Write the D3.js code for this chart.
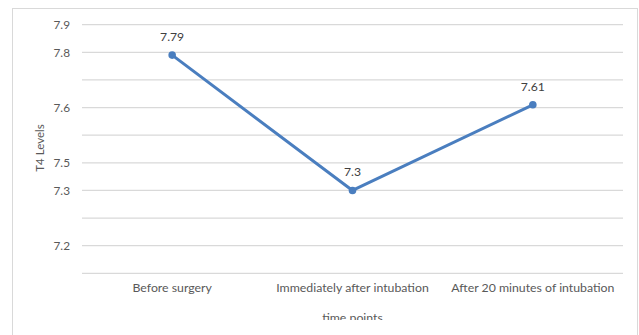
<!DOCTYPE html>
<html><head><meta charset="utf-8">
<script src="https://cdn.jsdelivr.net/npm/d3@7"></script>
<style>body{margin:0;background:#fff}svg{display:block}</style>
</head><body>
<svg id="c" width="639" height="335"></svg>
<script>
const categories = ["Before surgery", "Immediately after intubation", "After 20 minutes of intubation"];
const values = [7.79, 7.3, 7.61];
const valueLabels = ["7.79", "7.3", "7.61"];
const tickValues = [7.0, 7.1, 7.2, 7.3, 7.4, 7.5, 7.6, 7.7, 7.8, 7.9];
const tickLabels = ["", "7.2", "", "7.3", "7.5", "", "7.6", "", "7.8", "7.9"];
const yTitle = "T4 Levels";
const xTitle = "time points";

const font = "Lato, 'Open Sans', sans-serif";
const txt = "#595959";
const svg = d3.select("#c");
const L = 82, R = 623, T = 24.7, B = 273.3;

svg.append("rect").attr("x", 12.5).attr("y", 8.5).attr("width", 625).attr("height", 340)
  .attr("fill", "#fff").attr("stroke", "#d9d9d9").attr("stroke-width", 1);

const x = d3.scaleBand().domain(categories).range([L, R]);
const y = d3.scaleLinear().domain([7.0, 7.9]).range([B, T]);

// gridlines
svg.append("g").selectAll("line").data(tickValues).join("line")
  .attr("x1", L).attr("x2", R)
  .attr("y1", d => y(d)).attr("y2", d => y(d))
  .attr("stroke", "#d9d9d9").attr("stroke-width", 1.2);

// y axis labels
const yAxis = d3.axisLeft(y).tickValues(tickValues).tickFormat((d, i) => tickLabels[i]).tickSize(0).tickPadding(12);
const ya = svg.append("g").attr("transform", `translate(${L},0)`).call(yAxis);
ya.select(".domain").remove();
ya.selectAll("text").attr("font-family", font).attr("font-size", 11.8).attr("fill", txt);

// x axis labels
const xAxis = d3.axisBottom(x).tickSize(0).tickPadding(10);
const xa = svg.append("g").attr("transform", `translate(0,${B})`).call(xAxis);
xa.select(".domain").remove();
xa.selectAll("text").attr("font-family", font).attr("font-size", 12.3).attr("fill", txt);

// line
const cx = d => x(d) + x.bandwidth() / 2;
const line = d3.line().x((d, i) => cx(categories[i])).y(d => y(d));
svg.append("path").datum(values).attr("d", line)
  .attr("fill", "none").attr("stroke", "#4a7ebf").attr("stroke-width", 3).attr("stroke-linejoin", "round");
svg.append("g").selectAll("circle").data(values).join("circle")
  .attr("cx", (d, i) => cx(categories[i])).attr("cy", d => y(d)).attr("r", 3.8).attr("fill", "#4a7ebf");

svg.append("g").selectAll("text").data(values).join("text")
  .attr("x", (d, i) => cx(categories[i])).attr("y", d => y(d) - 14)
  .attr("text-anchor", "middle").attr("font-family", font).attr("font-size", 12.2).attr("fill", "#404040")
  .text((d, i) => valueLabels[i]);

// y title
svg.append("text").attr("transform", `translate(44,148) rotate(-90)`)
  .attr("text-anchor", "middle").attr("font-family", font).attr("font-size", 11.5).attr("fill", txt).text(yTitle);

// x title (clipped at bottom like reference)
svg.append("clipPath").attr("id", "clipB").append("rect").attr("x", 0).attr("y", 0).attr("width", 639).attr("height", 320);
svg.append("text").attr("clip-path", "url(#clipB)").attr("x", (L + R) / 2).attr("y", 322)
  .attr("text-anchor", "middle").attr("font-family", font).attr("font-size", 12.3).attr("fill", txt).text(xTitle);
</script>
</body></html>
